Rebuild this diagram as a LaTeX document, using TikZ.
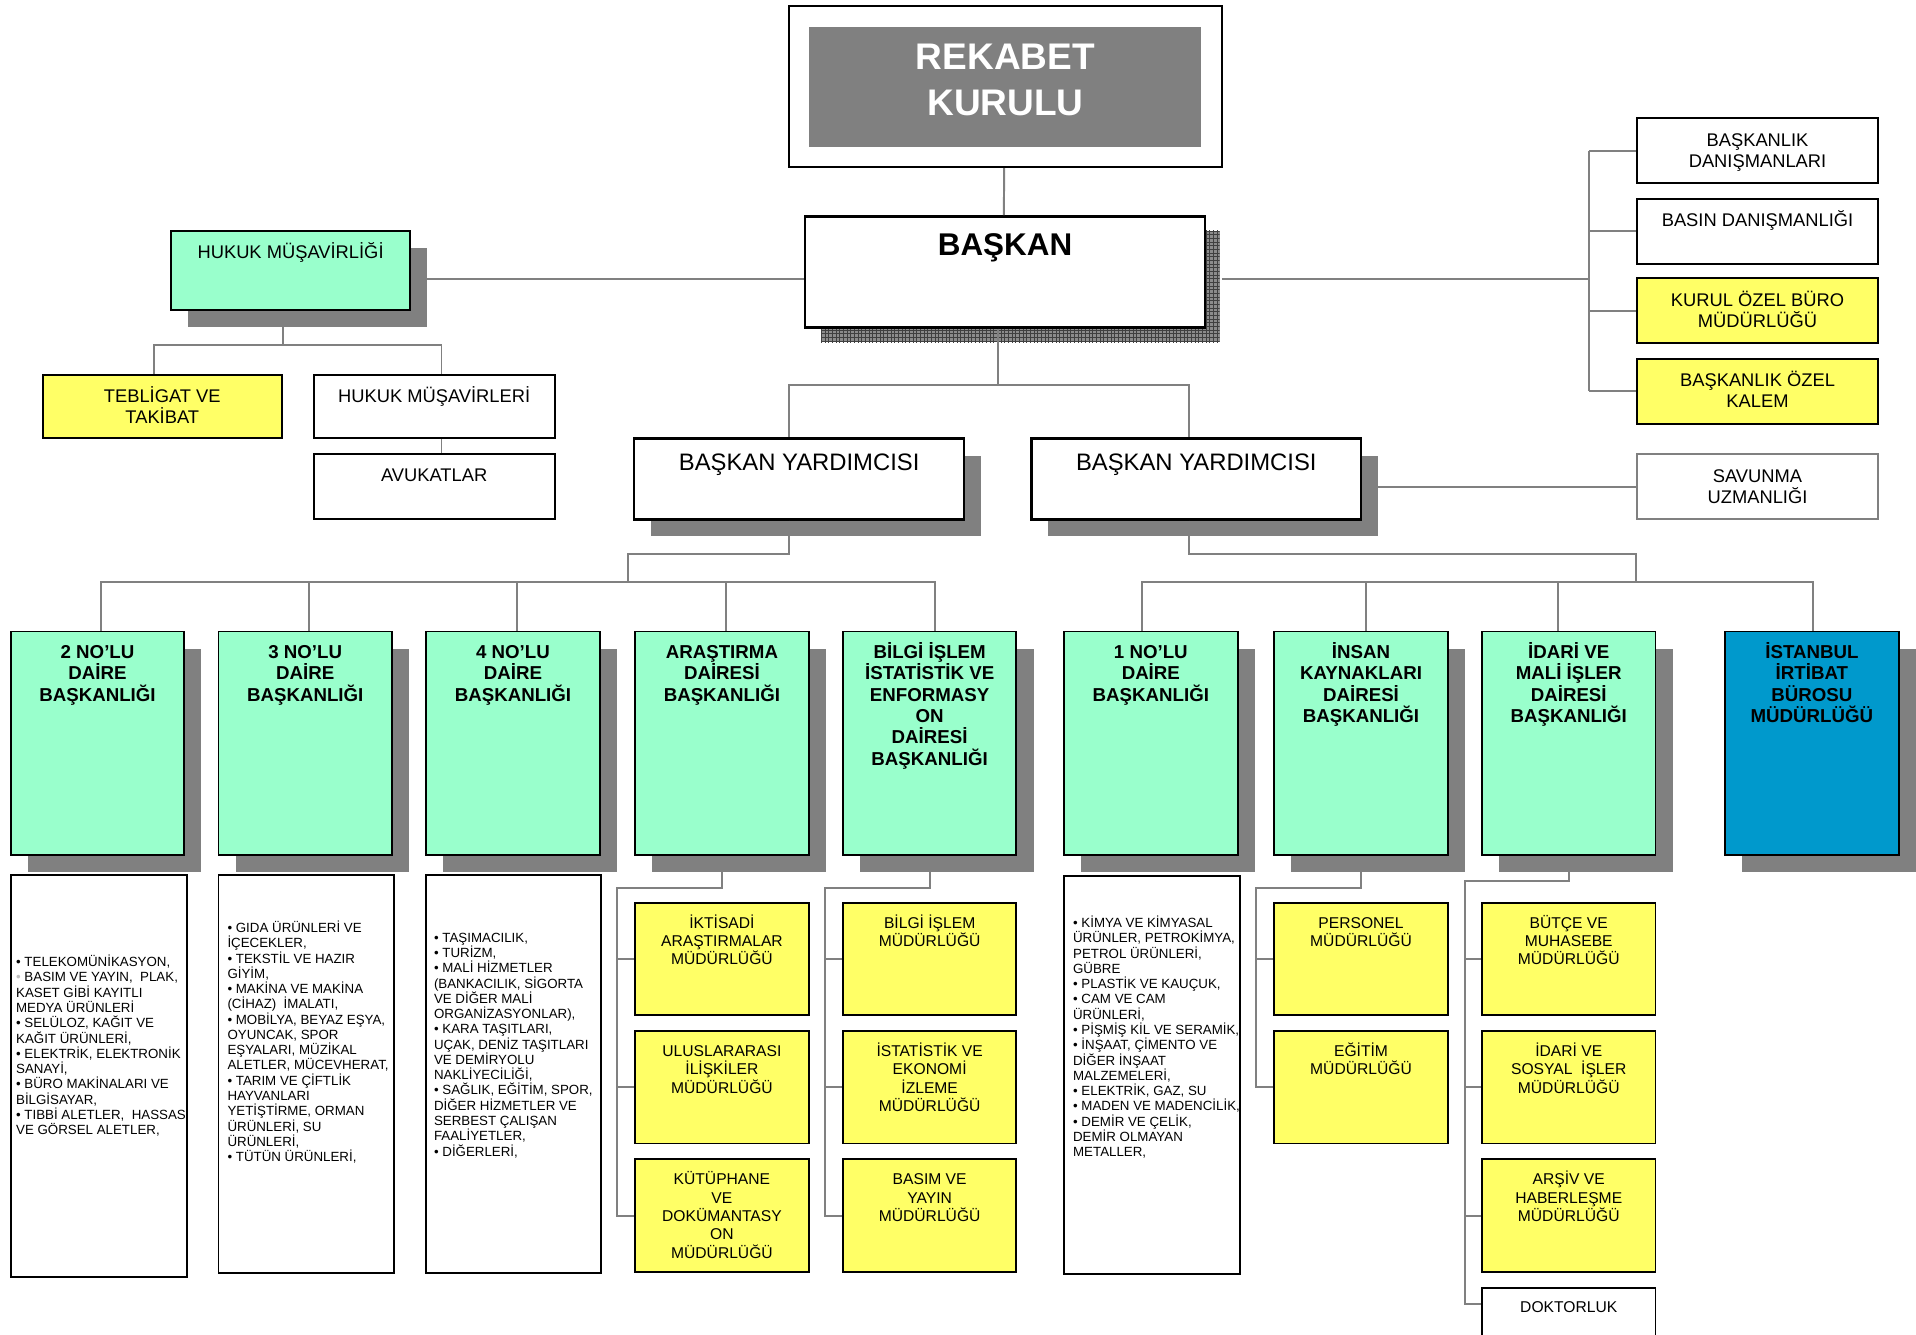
\documentclass[tikz,border=0pt]{standalone}
\usepackage{fontspec}
\setmainfont{Liberation Sans}
\usetikzlibrary{shadows,patterns}
\definecolor{mintc}{HTML}{99FFCC}
\definecolor{yelc}{HTML}{FFFF66}
\definecolor{bluec}{HTML}{0099CC}
\definecolor{shadc}{HTML}{808080}
\newcommand\firstln{\rule{0pt}{1em}}
\tikzset{
  box/.style={draw=black, line width=1.6pt, inner sep=0pt, anchor=north west},
  shad/.style={drop shadow={shadow xshift=14pt, shadow yshift=-14pt, fill=shadc, opacity=1}},
  conn/.style={draw=shadc, line width=1.6pt},
  txt/.style={anchor=north, inner sep=0pt, align=center, font=\fontsize{15}{17}\selectfont},
  btxt/.style={anchor=north, inner sep=0pt, align=center, font=\bfseries\fontsize{15.3}{17.5}\selectfont},
  stxt/.style={anchor=north, inner sep=0pt, align=center, font=\fontsize{12.8}{15}\selectfont},
  ltxt/.style={anchor=north west, inner sep=0pt, align=left, font=\fontsize{10.9}{12.5}\selectfont},
}
\begin{document}
\begin{tikzpicture}[x=1pt, y=-1pt]
\useasboundingbox (0,0) rectangle (1568,1092);

% top: kurul and baskan
\node[box, fill=white, minimum width=354pt, minimum height=132pt] (rek) at (645,4) {};
\node[anchor=north west, fill=shadc, inner sep=0pt, minimum width=321pt, minimum height=98pt] (rekin) at (662,22) {};
\node[anchor=north, inner sep=0pt, align=center, text=white, font=\bfseries\fontsize{30.3}{37}\selectfont] (rek-t) at ([yshift=-22.7pt]rek.north) {\firstln REKABET\\KURULU};
\fill[black!45, postaction={pattern=grid, pattern color=black!75}] (672,189) rectangle (998,280);
\node[box, line width=2pt, fill=white, minimum width=327pt, minimum height=91pt] (bsk) at (658,176) {};
\node[anchor=north, inner sep=0pt, font=\bfseries\fontsize{25.7}{30}\selectfont] (bsk-t) at ([yshift=-7.3pt]bsk.north) {\firstln BAŞKAN};

% hukuk
\node[box, shad, fill=mintc, minimum width=196pt, minimum height=65pt] (hmus) at (139,188) {};
\node[txt] (hmus-t) at ([yshift=-8pt]hmus.north) {\firstln HUKUK MÜŞAVİRLİĞİ};
\node[box, fill=yelc, minimum width=196pt, minimum height=52pt] (teb) at (34,306) {};
\node[txt] (teb-t) at ([yshift=-8pt]teb.north) {\firstln TEBLİGAT VE\\TAKİBAT};
\node[box, fill=white, minimum width=197pt, minimum height=52pt] (hmv) at (256,306) {};
\node[txt] (hmv-t) at ([yshift=-8pt]hmv.north) {\firstln HUKUK MÜŞAVİRLERİ};
\node[box, fill=white, minimum width=197pt, minimum height=53pt] (avk) at (256,371) {};
\node[txt] (avk-t) at ([yshift=-8pt]avk.north) {\firstln AVUKATLAR};

% right column
\foreach \nm/\y/\col/\lbl in {bd/96/white/{BAŞKANLIK\\DANIŞMANLARI}, bb/162/white/{BASIN DANIŞMANLIĞI},
    bok/227/yelc/{KURUL ÖZEL BÜRO\\MÜDÜRLÜĞÜ}, bok2/293/yelc/{BAŞKANLIK ÖZEL\\KALEM}} {
  \node[box, fill=\col, minimum width=197pt, minimum height=53pt] (\nm) at (1339,\y) {};
  \node[txt] (\nm-t) at ([yshift=-8.5pt]\nm.north) {\firstln\lbl};
}
\node[box, draw=shadc, fill=white, minimum width=197pt, minimum height=53pt] (sav) at (1339,371) {};
\node[txt] (sav-t) at ([yshift=-8.5pt]sav.north) {\firstln SAVUNMA\\UZMANLIĞI};

% yardimcilar
\foreach \nm/\x in {by1/518, by2/843} {
  \node[box, shad, line width=2pt, fill=white, minimum width=270pt, minimum height=66pt] (\nm) at (\x,358) {};
  \node[anchor=north, inner sep=0pt, font=\fontsize{19.5}{22}\selectfont] (\nm-t) at ([yshift=-7.5pt]\nm.north) {\firstln BAŞKAN YARDIMCISI};
}

% daire baskanliklari
\foreach \nm/\x/\col/\lbl in {b2/8/mintc/{2 NO’LU\\DAİRE\\BAŞKANLIĞI}, b3/178/mintc/{3 NO’LU\\DAİRE\\BAŞKANLIĞI},
    b4/348/mintc/{4 NO’LU\\DAİRE\\BAŞKANLIĞI}, bar/519/mintc/{ARAŞTIRMA\\DAİRESİ\\BAŞKANLIĞI},
    bbi/689/mintc/{BİLGİ İŞLEM\\İSTATİSTİK VE\\ENFORMASY\\ON\\DAİRESİ\\BAŞKANLIĞI},
    b1/870/mintc/{1 NO’LU\\DAİRE\\BAŞKANLIĞI}, bik/1042/mintc/{İNSAN\\KAYNAKLARI\\DAİRESİ\\BAŞKANLIĞI},
    bim/1212/mintc/{İDARİ VE\\MALİ İŞLER\\DAİRESİ\\BAŞKANLIĞI}, bist/1411/bluec/{İSTANBUL\\İRTİBAT\\BÜROSU\\MÜDÜRLÜĞÜ}} {
  \node[box, shad, fill=\col, minimum width=142pt, minimum height=183pt] (\nm) at (\x,516) {};
  \node[btxt] (\nm-t) at ([yshift=-7.2pt]\nm.north) {\firstln\lbl};
}

% sektor listeleri
\node[box, fill=white, minimum width=144pt, minimum height=329pt] (lb2) at (8,715) {};
\node[ltxt] (lb2-t) at ([xshift=5pt, yshift=-65pt]lb2.north west) {\firstln• TELEKOMÜNİKASYON,\\{\color{black!25}•} BASIM VE YAYIN,\ \ PLAK,\\KASET GİBİ KAYITLI\\MEDYA ÜRÜNLERİ\\• SELÜLOZ, KAĞIT VE\\KAĞIT ÜRÜNLERİ,\\• ELEKTRİK, ELEKTRONİK\\SANAYİ,\\• BÜRO MAKİNALARI VE\\BİLGİSAYAR,\\• TIBBİ ALETLER,\ \ HASSAS\\VE GÖRSEL ALETLER,};
\node[box, fill=white, minimum width=144pt, minimum height=326pt] (lb3) at (178,715) {};
\node[ltxt] (lb3-t) at ([xshift=8pt, yshift=-37pt]lb3.north west) {\firstln• GIDA ÜRÜNLERİ VE\\İÇECEKLER,\\• TEKSTİL VE HAZIR\\GİYİM,\\• MAKİNA VE MAKİNA\\(CİHAZ)\ \ İMALATI,\\• MOBİLYA, BEYAZ EŞYA,\\OYUNCAK, SPOR\\EŞYALARI, MÜZİKAL\\ALETLER, MÜCEVHERAT,\\• TARIM VE ÇİFTLİK\\HAYVANLARI\\YETİŞTİRME, ORMAN\\ÜRÜNLERİ, SU\\ÜRÜNLERİ,\\• TÜTÜN ÜRÜNLERİ,};
\node[box, fill=white, minimum width=143pt, minimum height=326pt] (lb4) at (348,715) {};
\node[ltxt] (lb4-t) at ([xshift=7pt, yshift=-45pt]lb4.north west) {\firstln• TAŞIMACILIK,\\• TURİZM,\\• MALİ HİZMETLER\\(BANKACILIK, SİGORTA\\VE DİĞER MALİ\\ORGANİZASYONLAR),\\• KARA TAŞITLARI,\\UÇAK, DENİZ TAŞITLARI\\VE DEMİRYOLU\\NAKLİYECİLİĞİ,\\• SAĞLIK, EĞİTİM, SPOR,\\DİĞER HİZMETLER VE\\SERBEST ÇALIŞAN\\FAALİYETLER,\\• DİĞERLERİ,};
\node[box, fill=white, minimum width=144pt, minimum height=326pt] (lb1) at (870,716) {};
\node[ltxt] (lb1-t) at ([xshift=8pt, yshift=-32pt]lb1.north west) {\firstln• KİMYA VE KİMYASAL\\ÜRÜNLER, PETROKİMYA,\\PETROL ÜRÜNLERİ,\\GÜBRE\\• PLASTİK VE KAUÇUK,\\• CAM VE CAM\\ÜRÜNLERİ,\\• PİŞMİŞ KİL VE SERAMİK,\\• İNŞAAT, ÇİMENTO VE\\DİĞER İNŞAAT\\MALZEMELERİ,\\• ELEKTRİK, GAZ, SU\\• MADEN VE MADENCİLİK,\\• DEMİR VE ÇELİK,\\DEMİR OLMAYAN\\METALLER,};

% mudurlukler
\foreach \nm/\x/\y/\lbl in {ikt/519/738/{İKTİSADİ\\ARAŞTIRMALAR\\MÜDÜRLÜĞÜ}, ulu/519/843/{ULUSLARARASI\\İLİŞKİLER\\MÜDÜRLÜĞÜ},
    kut/519/948/{KÜTÜPHANE\\VE\\DOKÜMANTASY\\ON\\MÜDÜRLÜĞÜ}, bis/689/738/{BİLGİ İŞLEM\\MÜDÜRLÜĞÜ},
    ist/689/843/{İSTATİSTİK VE\\EKONOMİ\\İZLEME\\MÜDÜRLÜĞÜ}, bas/689/948/{BASIM VE\\YAYIN\\MÜDÜRLÜĞÜ},
    per/1042/738/{PERSONEL\\MÜDÜRLÜĞÜ}, egt/1042/843/{EĞİTİM\\MÜDÜRLÜĞÜ},
    but/1212/738/{BÜTÇE VE\\MUHASEBE\\MÜDÜRLÜĞÜ}, ids/1212/843/{İDARİ VE\\SOSYAL\ \ İŞLER\\MÜDÜRLÜĞÜ},
    ars/1212/948/{ARŞİV VE\\HABERLEŞME\\MÜDÜRLÜĞÜ}} {
  \node[box, fill=yelc, minimum width=142pt, minimum height=92pt] (\nm) at (\x,\y) {};
  \node[stxt] (\nm-t) at ([yshift=-8.7pt]\nm.north) {\firstln\lbl};
}
\node[box, fill=white, minimum width=142pt, minimum height=60pt] (dok) at (1212,1053) {};
\node[stxt] (dok-t) at ([yshift=-7.7pt]dok.north) {\firstln DOKTORLUK};

% connectors
\draw[conn] ([xshift=-1pt]rek.south) -- ([xshift=-1pt]bsk.north);
\coordinate (bw) at ([yshift=-5.5pt]bsk.west);
\draw[conn] (bw) -- (bw -| hmus.east);
\coordinate (rbus) at (1300,227);
\coordinate (be) at ([xshift=13pt, yshift=-5.5pt]bsk.east);
\draw[conn] (be) -- (be -| rbus);
\draw[conn] (bd.west -| rbus) -- (bok2.west -| rbus);
\foreach \n in {bd,bb,bok,bok2} \draw[conn] (\n.west) -- (\n.west -| rbus);
\draw[conn] ([xshift=-6pt]hmus.south) -- ++(0,28) coordinate (hk) -| ([xshift=-7pt]teb.north);
\draw[conn] (hk) -| ([xshift=6pt]hmv.north);
\draw[conn] ([xshift=6pt]hmv.south) -- ([xshift=6pt]avk.north);
\draw[conn] ([xshift=-6pt]bsk.south) -- ++(0,46) coordinate (bk) -| ([xshift=-8pt]by1.north);
\draw[conn] (bk) -| ([xshift=-6pt]by2.north);
\draw[conn] (sav.west) -- (sav.west -| by2.east);
\coordinate (lbus) at (514,476);
\draw[conn] ([xshift=-8pt]by1.south) -- ++(0,27) -| (lbus);
\draw[conn] ([xshift=3pt]b2.north) |- (lbus) -| ([xshift=4pt]bbi.north);
\foreach \n in {b3,b4,bar} \draw[conn] ([xshift=3pt]\n.north) |- (lbus);
\coordinate (rbus2) at (1339,476);
\draw[conn] ([xshift=-6pt]by2.south) -- ++(0,27) -| (rbus2);
\draw[conn] ([xshift=-7pt]b1.north) |- (rbus2) -| ([xshift=1pt]bist.north);
\draw[conn] ([xshift=4pt]bik.north) |- (rbus2);
\draw[conn] ([xshift=-9pt]bim.north) |- (rbus2);
\draw[conn] (bar.south) -- ++(0,26) -| ([xshift=-14pt]kut.west) -- (kut.west);
\foreach \n in {ikt,ulu} \draw[conn] ([xshift=-14pt]\n.west) -- (\n.west);
\draw[conn] (bbi.south) -- ++(0,26) -| ([xshift=-14pt]bas.west) -- (bas.west);
\foreach \n in {bis,ist} \draw[conn] ([xshift=-14pt]\n.west) -- (\n.west);
\draw[conn] (bik.south) -- ++(0,26) -| ([xshift=-14pt]egt.west) -- (egt.west);
\draw[conn] ([xshift=-14pt]per.west) -- (per.west);
\draw[conn] (bim.south) -- ++(0,20) -| ([xshift=-13pt, yshift=-14pt]dok.north west) -- ([yshift=-14pt]dok.north west);
\foreach \n in {but,ids,ars} \draw[conn] ([xshift=-13pt]\n.west) -- (\n.west);
\end{tikzpicture}
\end{document}
